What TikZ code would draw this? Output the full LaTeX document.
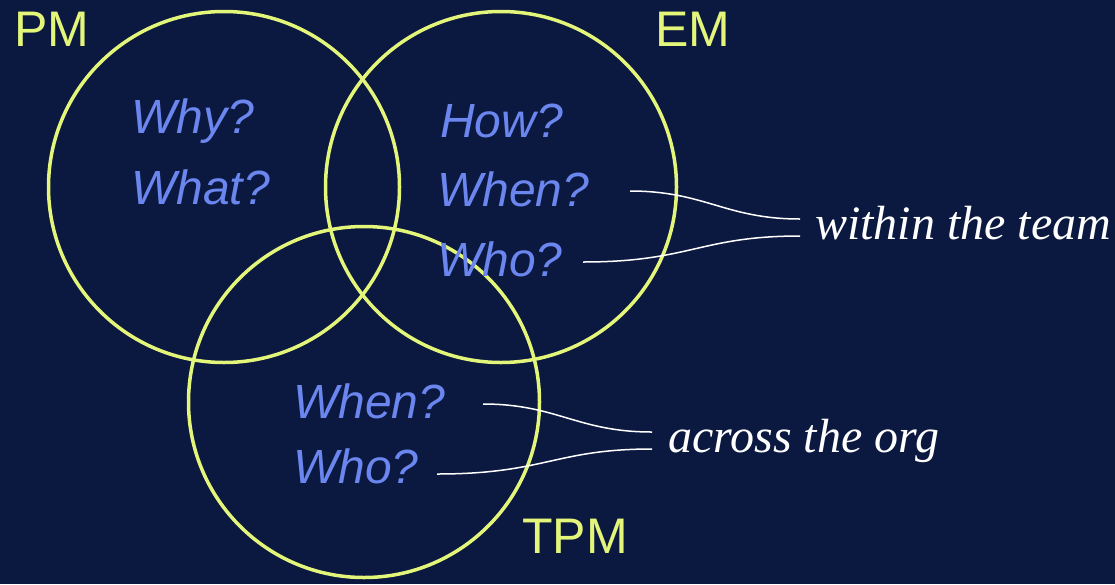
\documentclass[tikz,border=0pt]{standalone}
\usepackage{fontspec}
\setmainfont{Liberation Sans}
\newfontfamily\serifit{Liberation Serif}
\definecolor{bgnavy}{RGB}{11,24,64}
\definecolor{lime}{RGB}{228,246,122}
\definecolor{peri}{RGB}{107,134,238}
\begin{document}
\begin{tikzpicture}[x=1pt,y=-1pt,
  ring/.style={draw=lime,line width=3.5pt},
  role/.style={anchor=base west,inner sep=0,text=lime,font=\fontsize{50}{50}\selectfont},
  quest/.style={anchor=base west,inner sep=0,text=peri,font=\fontsize{48}{48}\selectfont\itshape},
  scope/.style={anchor=base west,inner sep=0,text=white,font=\serifit\fontsize{48}{48}\selectfont\itshape},
  link/.style={draw=white,line width=1.5pt}]
\fill[bgnavy] (0,0) rectangle (1115,584);
\useasboundingbox (0,0) rectangle (1115,584);
% circles
\node[ring,circle,minimum size=351pt,inner sep=0] (pm) at (224,187) {};
\node[ring,circle,minimum size=351pt,inner sep=0] (em) at (501,187) {};
\node[ring,circle,minimum size=351pt,inner sep=0] (tpm) at (364,402) {};
% role labels
\node[role] (lpm) at (14,46) {PM};
\node[role] (lem) at (655,46) {EM};
\node[role] (ltpm) at (522,553) {TPM};
% questions
\node[quest] (why) at (131,133) {Why?};
\node[quest] (what) at (131,204) {What?};
\node[quest] (how) at (440,137) {How?};
\node[quest] (whenem) at (437,206) {When?};
\node[quest] (whoem) at (437,276) {Who?};
\node[quest] (whentpm) at (293,418) {When?};
\node[quest] (whotpm) at (293,483) {Who?};
% scope labels
\node[scope] (team) at (815,239) {within the team};
\node[scope] (org) at (668,452) {across the org};
% connector ends
\coordinate (a1) at (630,191);
\coordinate (a2) at (583,262);
\coordinate (b1) at (800,219);
\coordinate (b2) at (800,236);
\coordinate (c1) at (483,404);
\coordinate (c2) at (437,474);
\coordinate (d1) at (652,432);
\coordinate (d2) at (652,449);
\draw[link] (a1) .. controls (705,191) and (725,219) .. (b1);
\draw[link] (a2) .. controls (690,262) and (700,236) .. (b2);
\draw[link] (c1) .. controls (557,404) and (577,432) .. (d1);
\draw[link] (c2) .. controls (545,474) and (555,449) .. (d2);
\end{tikzpicture}
\end{document}
